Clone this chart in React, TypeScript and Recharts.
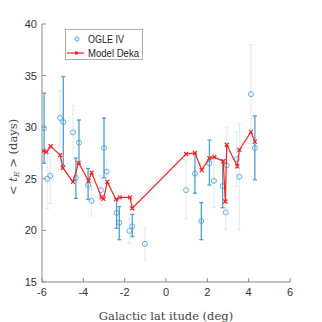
import { ScatterChart, Scatter, XAxis, YAxis, ErrorBar, Legend } from 'recharts';

// OGLE IV fields with solid error bars
const oStrongX = [-5.9, -4.97, -4.36, -4.21, -3.77, -3.0, -2.39, -2.26, -1.63, 1.4, 1.71, 2.1, 2.74, 4.3];
const oStrongY = [29.9, 30.5, 25.1, 28.5, 24.4, 28.0, 21.7, 20.75, 20.4, 25.5, 20.9, 26.5, 24.3, 28.0];
const oStrongLo = [3.4, 4.2, 2.0, 2.0, 1.4, 2.9, 1.5, 1.65, 1.0, 1.9, 1.8, 2.1, 2.1, 3.1];
const oStrongHi = [3.4, 4.4, 1.9, 2.2, 1.6, 2.9, 1.3, 1.55, 1.15, 2.0, 1.8, 2.25, 2.5, 3.1];

// OGLE IV fields with faint error bars
const oFaintX = [-5.75, -5.6, -5.13, -4.5, -3.6, -3.15, -2.87, -1.77, -1.02, 0.97, 2.32, 2.89, 2.94, 3.42, 3.55, 4.11];
const oFaintY = [25.0, 25.3, 30.9, 29.5, 22.85, 23.9, 25.7, 19.95, 18.7, 23.9, 24.8, 21.75, 26.3, 26.9, 25.2, 33.2];
const oFaintErr = [2.9, 2.7, 2.65, 2.6, 1.45, 1.4, 1.0, 1.2, 1.6, 2.8, 2.6, 1.65, 3.7, 2.65, 5.15, 4.8];

// Model Deka
const modelX = [-5.93, -5.79, -5.58, -5.12, -4.99, -4.5, -4.23, -3.75, -3.6, -3.12, -3.02, -2.84, -2.42, -2.23, -1.74, -1.63,
  0.97, 1.4, 1.73, 2.1, 2.34, 2.77, 2.87, 2.94, 3.45, 3.55, 4.11, 4.3];
const modelY = [27.7, 27.6, 28.15, 27.3, 26.05, 24.7, 26.55, 24.8, 25.6, 23.2, 23.05, 24.7, 23.0, 23.2, 23.2, 22.15,
  27.4, 27.5, 25.85, 27.0, 27.1, 26.7, 22.8, 28.3, 26.2, 27.8, 29.55, 28.6];

const xTicks = [-6, -4, -2, 0, 2, 4, 6];
const yTicks = [15, 20, 25, 30, 35, 40];

const strongData = oStrongX.map((x, i) => ({ x, y: oStrongY[i], err: [oStrongLo[i], oStrongHi[i]] }));
const faintData = oFaintX.map((x, i) => ({ x, y: oFaintY[i], err: oFaintErr[i] }));
const modelData = modelX.map((x, i) => ({ x, y: modelY[i] }));

const BLUE = '#4f9fd8';
const FAINT = '#d3e6f4';
const RED = '#f52222';
const AXIS = '#8a8a8a';
const tickFont = { fontFamily: 'Liberation Sans, Arial, sans-serif', fontSize: 11, fill: '#333' };
const legFont = { fontFamily: 'Liberation Sans, Arial, sans-serif', fontSize: 10, fill: '#222' };

const Ring = (p: any) => (
  <circle cx={p.cx} cy={p.cy} r={2.5} fill="none" stroke={BLUE} strokeWidth={0.85} />
);
const Cross = (p: any) => (
  <path d={`M${p.cx - 2},${p.cy - 2}L${p.cx + 2},${p.cy + 2}M${p.cx - 2},${p.cy + 2}L${p.cx + 2},${p.cy - 2}`} stroke={RED} strokeWidth={1.2} />
);

const LegendBox = () => (
  <svg width={78} height={31} style={{ display: 'block' }}>
    <rect x={0.5} y={0.5} width={77} height={30} fill="#fff" stroke="#999" strokeWidth={0.8} />
    <line x1={12} y1={6} x2={12} y2={14} stroke={FAINT} strokeWidth={0.8} />
    <circle cx={12} cy={10} r={2} fill="none" stroke={BLUE} strokeWidth={0.9} />
    <text x={23} y={14} textLength={36} lengthAdjust="spacingAndGlyphs" style={legFont}>OGLE IV</text>
    <line x1={2} y1={24} x2={19} y2={24} stroke={RED} strokeWidth={1.2} />
    <rect x={10} y={22.5} width={3} height={3} fill={RED} />
    <text x={23} y={28} textLength={51} lengthAdjust="spacingAndGlyphs" style={legFont}>Model Deka</text>
  </svg>
);

const YTitle = () => (
  <text transform="translate(17,157) rotate(-90)" textAnchor="middle" style={{ fontFamily: 'DejaVu Serif, Liberation Serif, serif', fontSize: 11.5, fill: '#444' }}>
    {'< '}<tspan fontStyle="italic">t</tspan><tspan fontStyle="italic" fontSize={8} dy={2}>E</tspan><tspan dy={-2}>{' > (days)'}</tspan>
  </text>
);

export default function App() {
  return (
    <div style={{ position: 'absolute', left: 0, top: 0, width: 322, height: 322, background: '#fff' }}>
      <ScatterChart width={322} height={322} margin={{ top: 24, right: 32, left: 0, bottom: 0 }}>
        <XAxis type="number" dataKey="x" domain={[-6, 6]} ticks={xTicks} allowDataOverflow
          stroke={AXIS} tickSize={-4} tickMargin={10} tick={tickFont} height={40}
          label={{ value: 'Galactic lat itude (deg)', position: 'insideBottom', offset: 2, style: { fontFamily: 'DejaVu Serif, Liberation Serif, serif', fontSize: 11.5, fill: '#444' } }} />
        <XAxis xAxisId="top" orientation="top" type="number" dataKey="x" domain={[-6, 6]} ticks={xTicks}
          stroke={AXIS} tickSize={-4} tick={false} height={0} />
        <YAxis type="number" dataKey="y" domain={[15, 40]} ticks={yTicks} allowDataOverflow
          stroke={AXIS} tickSize={-4} tickMargin={9} tick={tickFont} width={42} label={<YTitle />} />
        <YAxis yAxisId="right" orientation="right" type="number" dataKey="y" domain={[15, 40]} ticks={yTicks}
          stroke={AXIS} tickSize={-4} tick={false} width={0} />
        <Scatter data={faintData} shape={<Ring />} isAnimationActive={false} legendType="none">
          <ErrorBar dataKey="err" direction="y" width={2} stroke={FAINT} strokeWidth={0.8} isAnimationActive={false} />
        </Scatter>
        <Scatter data={strongData} shape={<Ring />} isAnimationActive={false}>
          <ErrorBar dataKey="err" direction="y" width={2} stroke={BLUE} strokeWidth={1.3} isAnimationActive={false} />
        </Scatter>
        <Scatter data={modelData} shape={<Cross />} line={{ stroke: RED, strokeWidth: 1.2 }} isAnimationActive={false} />
        <Legend layout="vertical" align="center" verticalAlign="middle" content={() => <LegendBox />}
          wrapperStyle={{ position: 'absolute', top: 29, left: 65, width: 78, height: 31 }} />
      </ScatterChart>
    </div>
  );
}
